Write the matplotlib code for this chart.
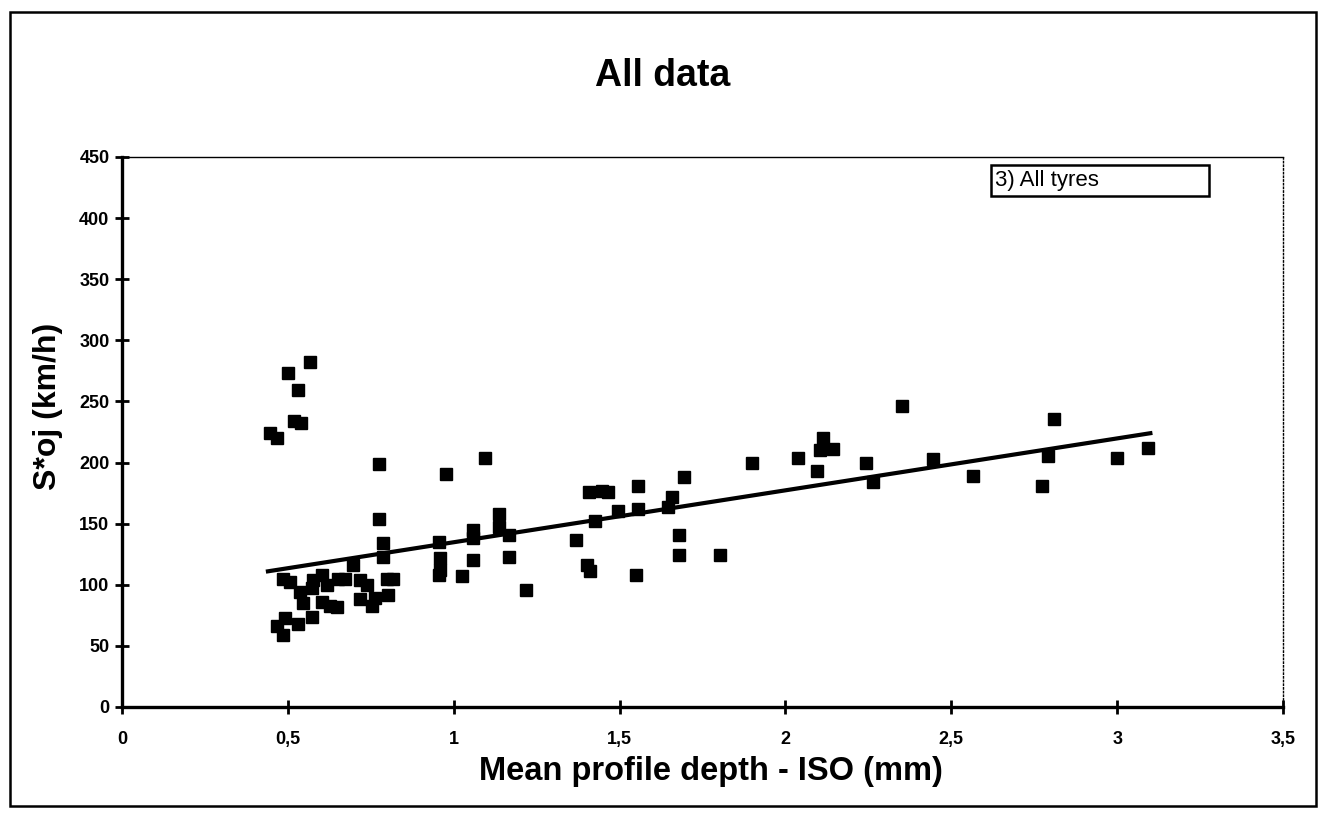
import numpy as np
import matplotlib
matplotlib.use('Agg')
import matplotlib.pyplot as plt
from matplotlib.patches import Rectangle

# mean profile depth (mm)
mpd = [0.446, 0.468, 0.500, 0.530, 0.520, 0.540, 0.567, 0.775,
       0.776, 0.786, 0.786, 0.697, 0.486, 0.506, 0.537, 0.547, 0.576,
       0.573, 0.603, 0.618, 0.603, 0.627, 0.648, 0.651, 0.672, 0.717,
       0.738, 0.717, 0.753, 0.763, 0.800, 0.818, 0.803, 0.572, 0.530,
       0.490, 0.466, 0.484,
       0.976, 1.094, 0.957, 0.959, 0.959, 0.957, 1.024, 1.059, 1.059,
       1.059, 1.137, 1.137, 1.168, 1.168, 1.218, 1.369, 1.401, 1.411,
       1.408, 1.446, 1.466, 1.426, 1.496, 1.557, 1.557, 1.548, 1.657,
       1.647, 1.679, 1.679, 1.695, 1.803, 1.898, 2.037, 2.114, 2.104,
       2.142, 2.094,
       2.350, 2.242, 2.263, 2.446, 2.565, 2.810, 2.790, 2.773, 3.000,
       3.092]

# S*oj (km/h)
soj = [224, 220, 273, 259, 234, 232, 282, 199,
       154, 134, 123, 116, 105, 102, 94, 85, 104,
       97, 108, 100, 86, 83, 82, 105, 105, 104,
       100, 88, 83, 89, 105, 105, 92, 74, 68,
       73, 66, 59,
       191, 204, 135, 122, 112, 108, 107, 145, 138,
       120, 158, 147, 141, 123, 96, 137, 116, 111,
       176, 177, 176, 152, 160, 181, 162, 108, 172,
       164, 141, 124, 188, 124, 200, 204, 220, 210,
       211, 193,
       246, 200, 184, 203, 189, 236, 205, 181, 204,
       212]

# linear trend line end points
trend_x = [0.44, 3.10]
trend_y = [111, 224]

xticks = [0, 0.5, 1, 1.5, 2, 2.5, 3, 3.5]
xtick_labels = ['0', '0,5', '1', '1,5', '2', '2,5', '3', '3,5']
yticks = [0, 50, 100, 150, 200, 250, 300, 350, 400, 450]


def main():
    plt.rcParams['font.family'] = ['Liberation Sans', 'DejaVu Sans']

    fig = plt.figure(figsize=(13.23, 8.13), dpi=100)
    ax = fig.add_axes([0.0922, 0.1304, 0.8776, 0.6765])

    # data and trend
    ax.plot(mpd, soj, marker='s', linestyle='None', markersize=8.5,
            color='black', markeredgecolor='black')
    ax.plot(trend_x, trend_y, color='black', linewidth=3)

    ax.set_xlim(0, 3.5)
    ax.set_ylim(0, 450)
    ax.set_xticks(xticks)
    ax.set_xticklabels(xtick_labels)
    ax.set_yticks(yticks)

    ax.tick_params(axis='both', direction='inout', length=10, width=2,
                   labelsize=13)
    ax.tick_params(axis='x', pad=12)
    ax.tick_params(axis='y', pad=4)
    for lab in ax.get_xticklabels() + ax.get_yticklabels():
        lab.set_fontweight('bold')

    # spines: heavy left/bottom, thin top, dotted right
    ax.spines['left'].set_linewidth(2.4)
    ax.spines['bottom'].set_linewidth(2.4)
    ax.spines['top'].set_linewidth(1.0)
    ax.spines['right'].set_linewidth(1.0)
    ax.spines['right'].set_linestyle(':')

    # legend box
    ax.add_patch(Rectangle((0.7485, 0.929), 0.1877, 0.0565,
                           transform=ax.transAxes, fill=False,
                           edgecolor='black', linewidth=1.8, clip_on=False))
    ax.text(0.752, 0.957, '3) All tyres', transform=ax.transAxes,
            fontsize=16, va='center', ha='left')

    # titles
    fig.text(0.501, 0.907, 'All data', fontsize=27, fontweight='bold',
             ha='center', va='center')
    fig.text(0.537, 0.0406, 'Mean profile depth - ISO (mm)', fontsize=23.5,
             fontweight='bold', ha='center', va='baseline')
    fig.text(0.0363, 0.5006, 'S*oj (km/h)', fontsize=23, fontweight='bold',
             ha='center', va='center', rotation=90)

    # outer frame around the whole chart
    fig.add_artist(Rectangle((10 / 1323, 1 - 806 / 813), 1306 / 1323,
                             794 / 813, transform=fig.transFigure,
                             fill=False, edgecolor='black', linewidth=1.8))

    fig.savefig('out.png', dpi=100)


if __name__ == '__main__':
    main()
